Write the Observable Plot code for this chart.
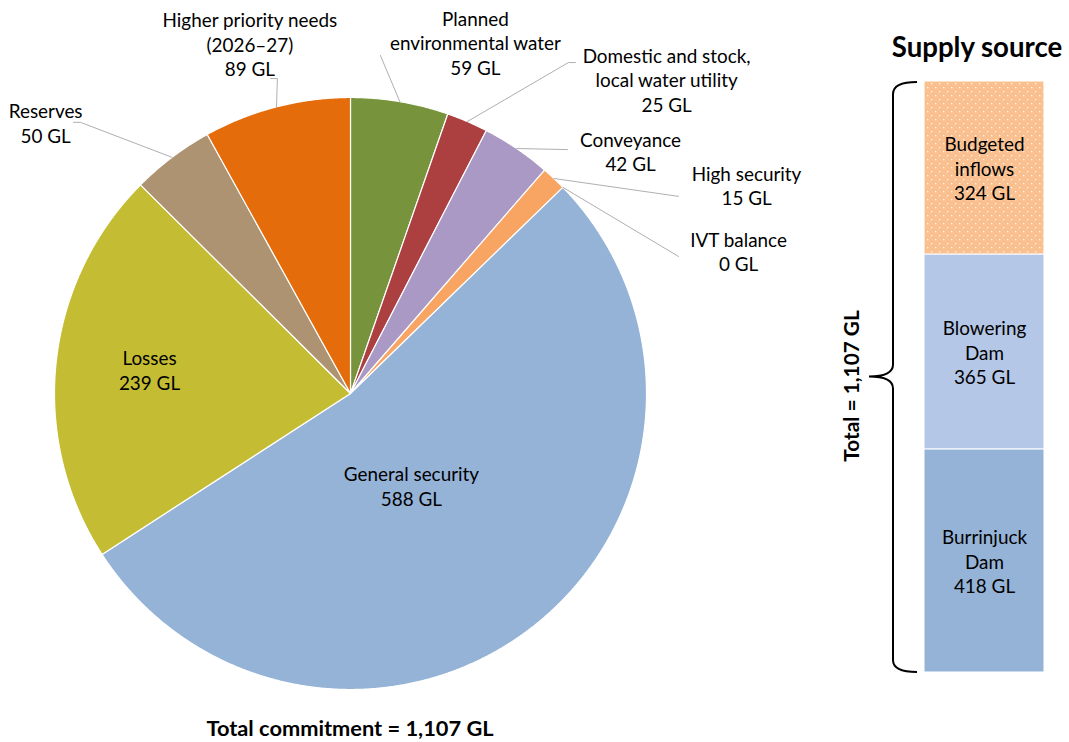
<!DOCTYPE html>
<html><head><meta charset="utf-8">
<script src="https://cdn.jsdelivr.net/npm/d3@7"></script>
<script src="https://cdn.jsdelivr.net/npm/@observablehq/plot@0.6"></script>
<style>
body{margin:0;background:#fff;font-family:Lato,"Open Sans",sans-serif;color:#000;}
#wrap{position:relative;width:1069px;height:742px;overflow:hidden;}
.abs{position:absolute;}
#caption{left:0;top:714px;width:700px;text-align:center;font-weight:bold;font-size:21.8px;line-height:28px;}
#title{left:877px;top:30px;width:200px;text-align:center;font-weight:bold;font-size:27.6px;line-height:34px;}
</style></head><body>
<div id="wrap">
  <div id="pie" class="abs" style="left:0;top:0"></div>
  <div id="bar" class="abs" style="left:830px;top:70px"></div>
  <div id="caption" class="abs"></div>
  <div id="title" class="abs">Supply source</div>
</div>
<script>
// ---- data: water commitments (pie, clockwise from 12 o'clock) ----
const useNames = ["Planned\nenvironmental water", "Domestic and stock,\nlocal water utility", "Conveyance", "High security", "IVT balance", "General security", "Losses", "Reserves", "Higher priority needs\n(2026–27)"];
const useValues = [59, 25, 42, 15, 0, 588, 239, 50, 89];
const useColors = ["#77933C", "#AC3F3F", "#AA99C4", "#F8A563", "#F8A563", "#95B3D7", "#C4BD33", "#AD9371", "#E46C0A"];

// ---- data: supply sources (stacked bar, bottom to top) ----
const sourceNames = ["Burrinjuck\nDam", "Blowering\nDam", "Budgeted\ninflows"];
const sourceValues = [418, 365, 324];
const sourceFills = ["#95B3D7", "#B4C7E7", "url(#dots)"];

// ---- layout (label centres and leader elbows, in pie-radius units) ----
const labelPos = [[0.422, 1.186], [1.068, 1.061], [0.946, 0.819], [1.338, 0.704], [1.311, 0.481], [0.206, -0.311], [-0.679, 0.081], [-1.030, 0.916], [-0.340, 1.182]];
const leaderElbows = [[[0.101, 1.142]], [[0.736, 1.118], [0.760, 1.118]], [[0.733, 0.824]], [[1.108, 0.666]], [[1.108, 0.463]], null, null, [[-0.912, 0.916], [-0.936, 0.916]], [[-0.247, 1.064], [-0.270, 1.064]]];

const FS = 18.9, LH = 24.6 / 18.9;
const fmt = d3.format(",");
const total = d3.sum(useValues);
const supplyTotal = d3.sum(sourceValues);
document.getElementById("caption").textContent = `Total commitment = ${fmt(total)} GL`;

const arcs = d3.pie().sort(null).value(d => d)(useValues);
const slices = useNames.map((n, i) => ({
  name: n, value: useValues[i], color: useColors[i],
  a0: arcs[i].startAngle, a1: arcs[i].endAngle,
  mid: (arcs[i].startAngle + arcs[i].endAngle) / 2
}));

const polyPts = [];
for (const s of slices) {
  if (s.a1 - s.a0 <= 0) continue;
  const n = Math.max(2, Math.ceil((s.a1 - s.a0) / 0.004));
  polyPts.push({name: s.name, color: s.color, x: 0, y: 0});
  for (let k = 0; k <= n; k++) {
    const a = s.a0 + (s.a1 - s.a0) * k / n;
    polyPts.push({name: s.name, color: s.color, x: Math.sin(a), y: Math.cos(a)});
  }
  polyPts.push({name: s.name, color: s.color, x: 0, y: 0});
}

const leaderPts = [];
slices.forEach((s, i) => {
  if (!leaderElbows[i]) return;
  leaderPts.push({name: s.name, x: Math.sin(s.mid), y: Math.cos(s.mid)});
  for (const [x, y] of leaderElbows[i]) leaderPts.push({name: s.name, x, y});
});

const labels = slices.map((s, i) => ({x: labelPos[i][0], y: labelPos[i][1], text: `${s.name}\n${s.value} GL`}));

const pie = Plot.plot({
  width: 830, height: 710, margin: 0,
  style: {fontFamily: "Lato, 'Open Sans', sans-serif", fontSize: FS + "px", color: "#000", background: "transparent"},
  x: {domain: [-1, 1], range: [54, 646], axis: null},
  y: {domain: [-1, 1], range: [689, 97], axis: null},
  color: {type: "identity"},
  marks: [
    Plot.line(polyPts, {x: "x", y: "y", z: "name", fill: "color", stroke: "white", strokeWidth: 1.2, strokeLinejoin: "round"}),
    Plot.line(leaderPts, {x: "x", y: "y", z: "name", stroke: "#A6A6A6", strokeWidth: 0.9}),
    Plot.text(labels, {x: "x", y: "y", text: "text", fontSize: FS, lineHeight: LH, fill: "#000"})
  ]
});
document.getElementById("pie").appendChild(pie);

const sources = sourceNames.map((n, i) => ({name: n, value: sourceValues[i], fill: sourceFills[i], label: `${n}\n${sourceValues[i]} GL`}));
const bar = Plot.plot({
  width: 239, height: 620, marginTop: 11, marginBottom: 18, marginLeft: 94, marginRight: 25,
  style: {fontFamily: "Lato, 'Open Sans', sans-serif", fontSize: FS + "px", color: "#000", background: "transparent"},
  x: {type: "band", domain: ["Supply"], padding: 0, axis: null},
  y: {domain: [0, supplyTotal], axis: null},
  color: {type: "identity"},
  marks: [
    Plot.barY(sources, {x: () => "Supply", y: "value", fill: "fill", stroke: "white", strokeWidth: 1}),
    Plot.text(sources, Plot.stackY({x: () => "Supply", y: "value", text: "label", fontSize: FS, lineHeight: LH, fill: "#000"})),
    Plot.text([`Total = ${fmt(supplyTotal)} GL`], {text: d => d, frameAnchor: "left", textAnchor: "middle", rotate: -90, dx: -72, dy: 9, fontWeight: "bold", fontSize: 20.8, fill: "#000"})
  ]
});
bar.insertAdjacentHTML("afterbegin",
  `<defs><pattern id="dots" patternUnits="userSpaceOnUse" width="8" height="8">
     <rect width="8" height="8" fill="#FAC090"/>
     <rect x="1" y="1" width="1.3" height="1.3" fill="#fff" fill-opacity="0.85"/>
     <rect x="5" y="5" width="1.3" height="1.3" fill="#fff" fill-opacity="0.85"/>
   </pattern></defs>`);
const ys = bar.scale("y");
const yT = ys.apply(supplyTotal) + 1, yB = ys.apply(0), yM = ys.apply(supplyTotal / 2);
const bx = 63, tipX = 39, endX = 87, r = 12;
const braceD = `M${endX},${yT} Q${bx},${yT} ${bx},${yT + r} L${bx},${yM - r} Q${bx},${yM} ${tipX},${yM} Q${bx},${yM} ${bx},${yM + r} L${bx},${yB - r} Q${bx},${yB} ${endX},${yB}`;
bar.insertAdjacentHTML("beforeend", `<path d="${braceD}" fill="none" stroke="#000" stroke-width="2"/>`);
document.getElementById("bar").appendChild(bar);
</script>
</body></html>
